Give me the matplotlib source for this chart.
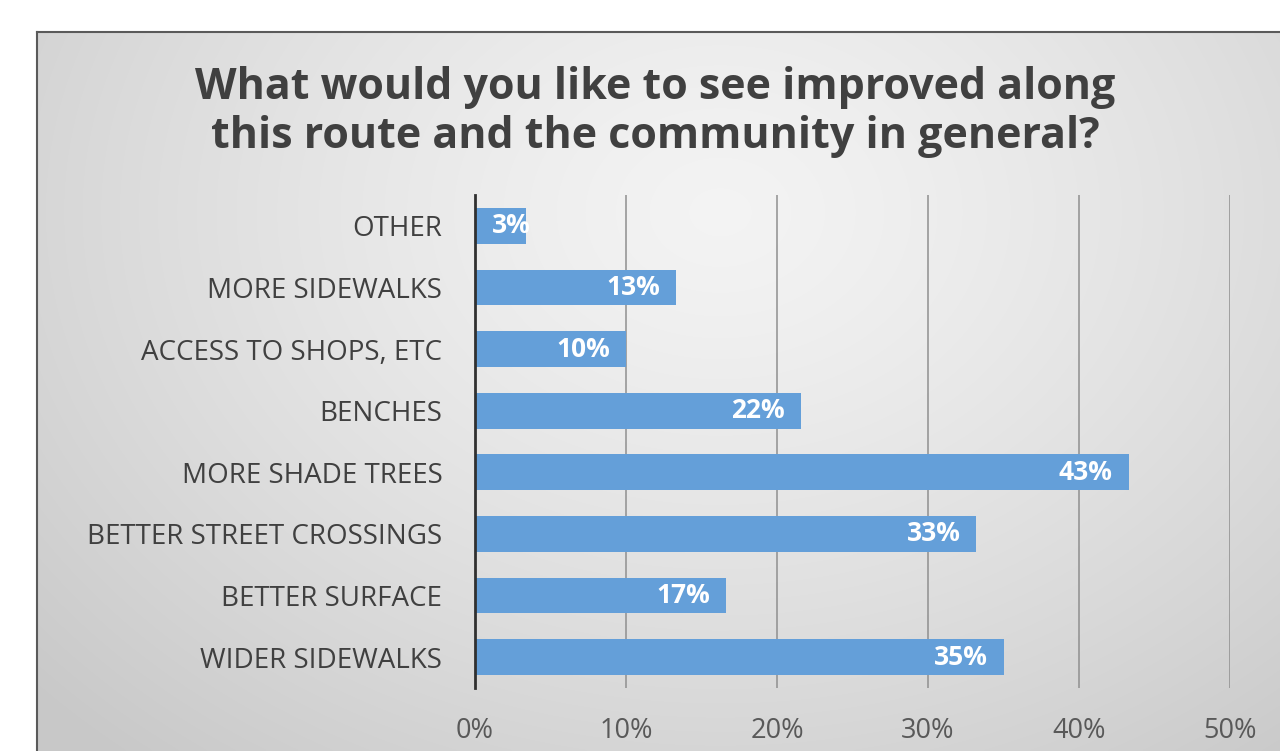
import numpy as np
import matplotlib
matplotlib.use("Agg")
import matplotlib.pyplot as plt

categories = ["WIDER SIDEWALKS", "BETTER SURFACE", "BETTER STREET CROSSINGS",
              "MORE SHADE TREES", "BENCHES", "ACCESS TO SHOPS, ETC",
              "MORE SIDEWALKS", "OTHER"]
values = [35.0, 16.6, 33.2, 43.3, 21.6, 10.0, 13.3, 3.4]
labels = ["35%", "17%", "33%", "43%", "22%", "10%", "13%", "3%"]
xticks = [0, 10, 20, 30, 40, 50]
xticklabels = ["0%", "10%", "20%", "30%", "40%", "50%"]
title = "What would you like to see improved along\nthis route and the community in general?"

plt.rcParams['font.family'] = ['Open Sans', 'DejaVu Sans']

W, H = 1280, 751
fig = plt.figure(figsize=(W / 100, H / 100), dpi=100)
fig.patch.set_facecolor("white")

# background panel with gradient
fx0, fy0 = 37, 32
bg = fig.add_axes([fx0 / W, 0, 1 - fx0 / W, (H - fy0) / H])
ny, nx = 300, 600
yy, xx = np.mgrid[0:1:ny * 1j, 0:1:nx * 1j]
cx, cy = 0.55, 0.25
d = np.sqrt(((xx - cx) / 0.75) ** 2 + ((yy - cy) / 1.0) ** 2)
d = np.clip(d, 0, 1)
val = 0.955 - 0.17 * d ** 1.3
img = np.dstack([val, val, val])
bg.imshow(img, aspect="auto", extent=[0, 1, 1, 0], interpolation="bilinear")
bg.set_xlim(0, 1)
bg.set_ylim(1, 0)
bg.set_xticks([])
bg.set_yticks([])
for s in ["right", "bottom"]:
    bg.spines[s].set_visible(False)
for s in ["left", "top"]:
    bg.spines[s].set_color("#5a5a5a")
    bg.spines[s].set_linewidth(1.5)

# main axes
ax0, ax1 = 475, 1230
ay0, ay1 = 195, 688
ax = fig.add_axes([ax0 / W, (H - ay1) / H, (ax1 - ax0) / W, (ay1 - ay0) / H])
ax.patch.set_alpha(0)
y = np.arange(len(categories))
ax.barh(y, values, height=0.58, color="#649fd9", zorder=3)
ax.set_xlim(0, 50)
ax.set_ylim(-0.5, len(categories) - 0.5)
ax.set_xticks(xticks)
ax.set_xticklabels(xticklabels)
ax.set_yticks(y)
ax.set_yticklabels(categories)
ax.tick_params(axis="x", length=0, pad=21, labelsize=19.5, labelcolor="#595959")
ax.tick_params(axis="y", length=0, pad=23.5, labelsize=20, labelcolor="#404040")
ax.grid(axis="x", color="#8f8f8f", linewidth=1.1, zorder=1)
for s in ["right", "top", "bottom"]:
    ax.spines[s].set_visible(False)
ax.spines["left"].set_color("#303030")
ax.spines["left"].set_linewidth(2.0)
ax.spines["left"].set_zorder(4)

for yi, v, lab in zip(y, values, labels):
    if v < 6:
        ax.annotate(lab, (0, yi), xytext=(17, 0), textcoords="offset pixels",
                    ha="left", va="center", color="white", fontsize=19,
                    fontweight="bold", zorder=5)
    else:
        ax.annotate(lab, (v, yi), xytext=(-16, 0), textcoords="offset pixels",
                    ha="right", va="center", color="white", fontsize=19,
                    fontweight="bold", zorder=5)

fig.text(655 / W, 1 - 112 / H, title, ha="center", va="center", fontsize=31,
         fontweight="bold", color="#404040", linespacing=1.18)

fig.savefig("out.png", dpi=100)
